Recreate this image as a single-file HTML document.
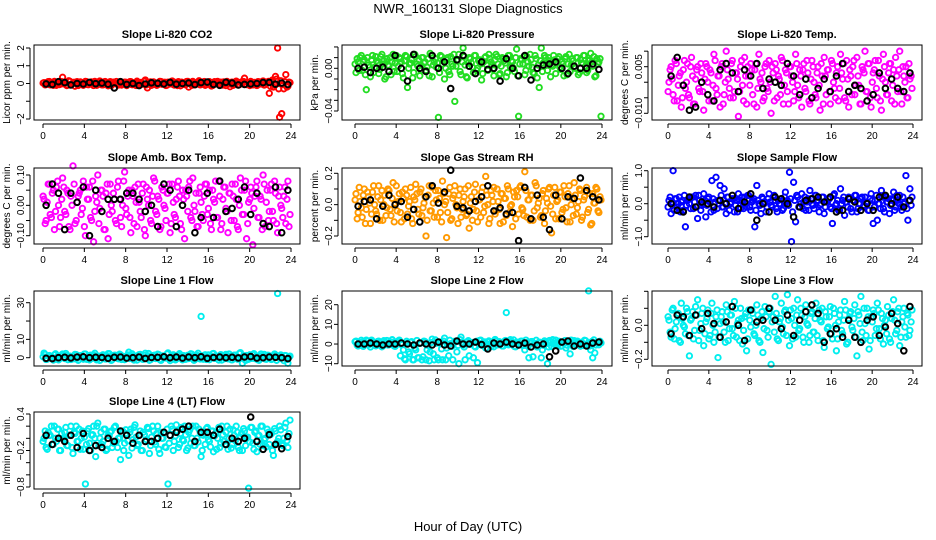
<!DOCTYPE html>
<html><head><meta charset="utf-8"><style>
html,body{margin:0;padding:0;background:#fff;}
svg{display:block;font-family:"Liberation Sans",sans-serif;}
</style></head><body>
<svg id="chart" width="936" height="540" viewBox="0 0 936 540" xmlns="http://www.w3.org/2000/svg">
<rect width="936" height="540" fill="#fff"/>
<text x="468" y="13" text-anchor="middle" font-size="13">NWR_160131  Slope Diagnostics</text>
<text x="468" y="531" text-anchor="middle" font-size="13">Hour of Day (UTC)</text>
</svg>
<script>
const xTicks = [0,4,8,12,16,20,24];
const titles = ["Slope Li-820 CO2","Slope Li-820 Pressure","Slope Li-820 Temp.","Slope Amb. Box Temp.","Slope Gas Stream RH","Slope Sample Flow","Slope Line 1 Flow","Slope Line 2 Flow","Slope Line 3 Flow","Slope Line 4 (LT) Flow"];
const yTitles = ["Licor ppm per min.","kPa per min.","degrees C per min.","degrees C per min.","percent per min.","ml/min per min.","ml/min per min.","ml/min per min.","ml/min per min.","ml/min per min."];

const co2Color = [0.05,-0.05,0.1,-0.08,0.02,0.12,-0.1,0.04,-0.03,0.35,0.08,-0.12,0.15,-0.05,0.03,-0.15,0.1,-0.02,0.06,-0.1,0.12,-0.06,0.02,0.09,-0.11,0.05,-0.03,0.14,-0.08,0.01,0.07,-0.13,0.1,-0.04,0.03,0.11,-0.09,0.05,-0.02,0.08,-0.12,0.04,0.1,-0.06,0.02,0.13,-0.08,0.06,-0.03,0.2,-0.25,0.05,-0.1,0.09,0.01,-0.07,0.12,-0.04,0.06,-0.11,0.08,-0.02,0.14,-0.09,0.03,0.1,-0.13,0.05,-0.06,0.11,-0.2,0.04,0.12,-0.08,0.02,0.15,-0.05,0.07,-0.1,0.03,0.1,-0.14,0.06,-0.03,0.12,-0.07,0.04,0.09,-0.12,0.02,-0.18,0.08,-0.04,0.13,-0.09,0.05,0.11,0.3,-0.06,0.03,0.12,-0.08,0.06,-0.11,0.09,-0.03,0.14,-0.07,0.04,-0.55,0.1,-0.2,0.4,2.0,-1.9,-1.7,-0.3,0.5,-0.15,0.05];
const co2Color2 = [0.02,-0.08,0.06,0.11,-0.03,-0.1,0.08,0.0,-0.06,0.1,-0.02,0.05,-0.09,0.12,-0.04,0.07,0.01,-0.11,0.09,-0.05,0.03,0.1,-0.07,0.04,-0.01,0.12,-0.1,0.06,0.02,-0.08,0.11,-0.03,0.05,-0.12,0.08,0.0,-0.05,0.09,-0.09,0.03,0.07,-0.02,0.1,-0.07,0.04,-0.11,0.06,0.01,-0.04,0.12,-0.08,0.03,0.09,-0.06,0.05,-0.1,0.0,0.11,-0.03,0.07,-0.09,0.02,0.1,-0.05,0.06,-0.12,0.04,0.08,-0.01,-0.07,0.12,0.03,-0.1,0.05,-0.04,0.09,-0.08,0.01,0.11,-0.06,0.07,-0.02,-0.11,0.1,0.03,-0.05,0.08,-0.09,0.0,0.12,-0.03,0.06,-0.1,0.04,0.09,-0.07,0.02,0.11,-0.04,0.05,-0.12,0.08,0.01,-0.06,0.1,-0.02,0.07,-0.09,0.03,0.12,-0.15,0.2,-0.1,0.25,-0.3,0.15,-0.05,0.1,-0.2,0.08];
const co2Black = [-0.02,-0.05,0.1,0.05,-0.08,0.0,-0.03,0.06,-0.01,0.02,-0.04,-0.25,0.1,-0.05,0.0,-0.12,-0.03,0.04,0.01,-0.02,0.06,-0.04,0.0,0.03,-0.06,0.05,0.08,-0.05,-0.1,0.07,0.02,-0.08,-0.05,-0.02,0.0,0.05,0.06,-0.04,0.02,-0.05];
const presColor = [-0.004,0.006,0.01,-0.002,0.008,-0.02,0.003,-0.008,0.012,0.001,0.007,-0.005,0.011,0.004,-0.01,0.009,0.002,-0.006,0.013,0.005,-0.003,0.01,0.006,-0.009,0.012,-0.018,0.004,0.008,-0.004,0.011,0.002,-0.007,0.01,0.005,-0.002,0.009,0.014,-0.008,0.006,0.001,-0.046,0.012,0.004,-0.01,0.008,-0.003,0.011,0.002,-0.031,0.007,0.013,-0.006,0.019,0.003,-0.009,0.01,0.005,-0.004,0.012,0.0,0.008,-0.011,0.006,0.011,-0.002,0.009,0.003,-0.007,0.013,0.004,-0.005,0.01,0.007,-0.008,0.012,0.001,0.006,-0.003,0.018,-0.045,0.009,0.004,-0.006,0.011,0.002,0.008,-0.004,0.012,-0.009,-0.018,0.019,0.005,0.01,-0.002,0.007,0.003,0.012,-0.005,0.009,0.001,0.006,-0.007,0.011,0.004,-0.003,0.009,0.002,0.01,-0.006,0.008,0.005,0.012,-0.004,0.007,0.014,0.002,-0.008,0.009,0.006,-0.045];
const presColor2 = [0.004,0.009,-0.002,0.012,0.006,-0.006,0.01,0.001,0.008,-0.004,0.011,0.005,-0.001,0.013,0.007,-0.008,0.003,0.01,0.006,-0.003,0.012,0.002,0.009,-0.005,0.007,0.011,0.0,0.005,-0.009,0.013,0.004,0.008,-0.002,0.01,0.006,0.001,-0.007,0.012,0.003,0.009,0.005,-0.004,0.011,0.007,0.0,0.01,-0.006,0.004,0.013,0.002,0.008,-0.003,0.006,0.011,-0.008,0.005,0.009,0.001,0.012,-0.002,0.007,0.004,-0.005,0.01,0.003,0.013,0.006,-0.001,0.008,0.011,-0.006,0.002,0.009,0.005,-0.004,0.012,0.007,0.0,0.01,-0.007,0.004,0.008,0.011,-0.002,0.006,0.013,0.001,-0.005,0.009,0.003,0.007,-0.003,0.012,0.005,0.01,-0.008,0.002,0.008,0.006,0.011,-0.001,0.004,0.009,-0.006,0.013,0.003,0.007,0.0,0.01,-0.004,0.005,0.012,0.002,-0.002,0.008,0.006,0.011,-0.007,0.004,0.009];
const presBlack = [0.0,0.001,-0.004,0.0,0.001,-0.003,0.012,0.0,-0.012,0.013,0.0,-0.003,0.012,0.0,0.006,-0.019,0.008,0.012,0.002,-0.005,0.006,-0.001,0.0,-0.012,0.009,0.0,-0.007,0.012,-0.011,0.0,0.003,0.004,0.006,0.0,-0.005,0.002,0.0,0.0,0.004,-0.001];
const tempColor = [0.0,0.005,-0.004,0.007,-0.006,0.002,-0.008,0.004,-0.002,0.006,-0.005,0.008,-0.007,0.001,0.005,-0.003,0.003,-0.009,0.006,0.0,0.004,-0.006,0.009,-0.002,0.002,-0.008,0.006,-0.004,0.01,0.001,-0.005,0.007,-0.003,0.003,-0.011,0.005,-0.001,0.008,-0.007,0.002,0.006,-0.004,0.004,-0.008,0.009,0.0,-0.006,0.005,-0.002,0.007,-0.01,0.003,0.006,-0.005,0.001,0.008,-0.007,0.004,-0.003,0.005,0.002,-0.006,0.009,-0.001,0.004,-0.008,0.006,-0.003,0.003,-0.007,0.007,0.0,-0.005,0.005,-0.009,0.002,0.008,-0.004,0.004,-0.007,0.006,-0.002,0.003,-0.006,0.009,0.001,-0.005,0.007,-0.008,0.002,0.005,-0.004,0.008,-0.001,-0.007,0.004,0.01,-0.003,0.006,-0.008,0.003,0.007,-0.005,0.002,-0.009,0.009,0.0,-0.004,0.006,-0.006,0.004,0.008,-0.003,0.01,-0.007,0.002,0.005,-0.005,0.001,-0.002];
const tempColor2 = [-0.003,0.004,0.001,-0.006,0.006,-0.001,0.003,-0.005,0.007,0.0,-0.004,0.005,0.002,-0.007,0.004,-0.002,0.006,-0.003,0.001,0.005,-0.006,0.003,-0.001,0.007,-0.004,0.002,0.005,-0.007,0.0,0.004,-0.002,0.006,-0.005,0.003,0.001,-0.003,0.007,-0.006,0.002,0.005,-0.001,0.004,-0.007,0.006,-0.002,0.001,0.003,-0.005,0.006,-0.003,0.0,0.005,-0.006,0.004,0.002,-0.004,0.007,-0.001,0.003,-0.007,0.005,0.0,-0.003,0.006,-0.005,0.002,0.004,-0.002,0.007,-0.006,0.001,0.005,-0.004,0.003,-0.001,0.006,-0.007,0.002,0.004,-0.003,0.007,0.0,-0.005,0.005,-0.002,0.003,0.006,-0.006,0.001,0.004,-0.004,0.007,-0.001,0.002,-0.007,0.005,0.003,-0.003,0.006,-0.005,0.0,0.004,-0.002,0.007,-0.006,0.001,0.005,-0.004,0.003,0.006,-0.001,-0.007,0.002,0.004,-0.003,0.005,0.0,-0.005,0.006,0.002];
const tempBlack = [0.002,0.008,-0.001,-0.009,-0.008,0.0,-0.004,-0.006,0.004,0.006,0.003,-0.003,0.004,0.002,0.006,-0.002,0.001,0.0,-0.001,0.006,0.002,-0.004,0.001,-0.005,-0.002,0.001,-0.003,0.002,0.006,-0.003,-0.001,-0.002,-0.006,-0.004,0.003,-0.002,0.001,-0.002,-0.003,0.003];
const boxColor = [0.02,-0.05,0.07,-0.03,0.04,-0.08,0.06,0.0,-0.04,0.09,-0.02,0.05,-0.07,0.03,0.13,-0.06,0.01,0.04,-0.03,0.08,-0.1,0.02,0.06,-0.05,-0.12,0.03,0.1,-0.01,0.05,-0.08,0.04,-0.11,0.07,-0.02,0.02,-0.06,0.08,-0.04,0.0,0.11,-0.03,0.05,-0.09,0.03,0.06,-0.07,0.01,-0.04,0.07,-0.1,0.02,0.05,-0.06,0.09,-0.02,0.03,-0.08,0.06,0.0,-0.05,0.04,-0.09,0.07,-0.03,0.02,0.08,-0.06,0.05,-0.11,0.03,0.06,-0.04,0.09,-0.02,-0.07,0.04,0.01,-0.05,0.07,-0.03,0.05,-0.08,0.02,0.08,-0.04,0.03,-0.06,0.06,-0.01,-0.09,0.04,0.07,-0.05,0.02,-0.08,0.09,-0.03,0.05,-0.11,0.01,0.06,-0.13,0.03,0.08,-0.04,0.02,0.1,-0.07,0.05,-0.02,0.07,-0.05,0.04,-0.09,0.06,-0.01,0.03,-0.06,0.08,-0.03];
const boxColor2 = [0.03,-0.06,0.01,0.07,-0.04,0.05,-0.02,0.08,-0.07,0.02,0.06,-0.03,0.04,-0.08,0.0,0.07,-0.05,0.03,0.05,-0.01,-0.07,0.06,0.02,-0.04,0.08,-0.02,0.01,-0.06,0.05,0.03,-0.08,0.07,-0.03,0.0,0.04,-0.05,0.06,0.02,-0.07,0.08,-0.01,0.03,-0.04,0.05,-0.06,0.01,0.07,-0.02,0.04,-0.08,0.06,0.0,-0.05,0.03,0.08,-0.03,0.02,-0.07,0.05,-0.01,0.04,0.07,-0.06,0.01,-0.04,0.06,0.03,-0.08,0.02,0.05,-0.02,0.08,-0.05,0.0,0.04,-0.07,0.06,-0.03,0.03,0.07,-0.01,-0.06,0.05,0.01,-0.04,0.08,-0.08,0.02,0.06,-0.02,0.04,-0.05,0.03,0.07,-0.07,0.0,0.05,-0.03,0.08,-0.06,0.02,0.04,-0.01,0.06,-0.04,0.03,-0.08,0.07,0.01,-0.05,0.05,-0.02,0.08,-0.06,0.03,0.0,-0.04,0.06,0.02,-0.07];
const boxBlack = [0.0,0.07,0.04,-0.08,0.04,0.01,0.06,-0.1,0.05,-0.02,0.02,0.02,0.02,0.04,0.04,0.02,-0.02,0.0,-0.07,0.07,0.05,-0.07,0.0,0.05,-0.09,-0.04,0.04,-0.04,0.08,-0.02,-0.01,0.02,0.06,-0.03,0.04,-0.06,-0.07,0.06,-0.09,0.05];
const rhColor = [0.07,-0.05,0.02,-0.08,0.1,-0.03,0.05,-0.12,0.08,0.0,-0.06,0.12,0.03,-0.1,0.06,-0.02,0.09,-0.07,0.14,0.01,-0.04,0.07,-0.11,0.04,0.1,-0.06,0.02,-0.09,0.05,0.13,-0.03,0.08,-0.07,0.01,-0.2,0.06,-0.04,0.11,-0.08,0.03,0.09,-0.05,0.15,0.0,-0.21,0.07,-0.1,0.04,0.12,-0.02,0.06,-0.08,0.02,0.1,-0.06,-0.15,0.05,-0.03,0.13,-0.11,0.03,0.08,-0.05,0.18,0.0,-0.09,0.06,0.11,-0.04,0.02,-0.12,0.07,0.04,-0.07,0.1,-0.01,-0.14,0.05,0.09,-0.06,0.12,-0.03,0.21,-0.08,0.03,0.06,-0.1,0.14,-0.02,0.04,-0.07,0.09,-0.04,0.01,0.11,-0.18,0.06,-0.09,0.03,0.08,-0.05,0.12,-0.02,0.07,-0.11,0.04,0.14,-0.06,0.02,0.09,-0.08,0.05,0.11,-0.03,-0.13,0.07,0.01,0.1,-0.05,0.03];
const rhColor2 = [0.03,-0.09,0.11,-0.02,0.06,-0.12,0.08,0.01,-0.06,0.12,-0.04,0.05,-0.1,0.09,0.0,-0.07,0.1,-0.03,0.04,-0.11,0.12,0.02,-0.05,0.08,-0.09,0.06,-0.01,0.11,-0.12,0.03,0.07,-0.06,0.1,-0.02,0.05,-0.1,0.12,-0.04,0.01,0.09,-0.08,0.04,-0.11,0.07,0.02,-0.05,0.11,-0.09,0.06,0.0,-0.12,0.1,-0.03,0.05,-0.07,0.12,0.01,-0.1,0.08,-0.04,0.03,-0.08,0.11,-0.01,0.06,-0.12,0.09,0.02,-0.06,0.1,-0.03,0.07,-0.11,0.04,0.12,-0.05,0.0,0.08,-0.09,0.05,0.11,-0.02,-0.07,0.09,0.03,-0.1,0.06,-0.04,0.12,0.01,-0.08,0.07,-0.12,0.04,0.1,-0.01,-0.06,0.11,0.02,-0.09,0.08,-0.03,0.05,-0.11,0.12,0.0,-0.07,0.06,-0.02,0.1,-0.1,0.03,0.09,-0.05,0.07,-0.12,0.01,0.11,-0.04,0.05];
const rhBlack = [-0.01,0.02,0.03,-0.09,-0.01,0.06,0.0,0.02,-0.08,-0.03,-0.11,0.05,0.12,0.01,0.08,0.22,-0.01,-0.02,-0.04,0.02,0.05,0.12,-0.04,-0.02,-0.06,-0.05,-0.23,0.11,-0.09,0.06,-0.08,-0.16,0.06,-0.09,0.05,0.04,0.17,0.09,0.05,0.03];
const sampColor = [0.1,-0.3,1.0,0.15,-0.1,0.2,0.05,-0.2,-0.7,0.1,0.0,0.2,-0.15,0.25,-0.45,0.1,-0.05,0.3,-0.4,0.15,0.05,0.7,-0.2,0.8,0.1,0.55,-0.1,0.45,-0.3,0.2,0.0,0.15,-0.25,0.1,0.3,-0.15,0.05,0.2,-0.1,0.25,-0.2,0.1,-0.7,0.55,0.0,-0.3,0.15,0.05,-0.1,0.3,-0.05,0.2,0.1,-0.25,0.0,0.15,-0.15,0.35,0.1,0.95,-1.15,0.65,-0.55,0.2,-0.1,0.3,0.05,-0.2,0.15,0.4,0.0,-0.15,0.25,0.1,-0.05,0.2,-0.3,0.05,0.15,-0.1,-0.6,0.3,0.0,-0.2,0.45,0.1,-0.35,0.05,0.2,-0.15,0.1,0.25,-0.25,0.0,0.15,-0.1,0.2,0.05,-0.2,0.3,-0.6,0.1,-0.5,0.0,0.4,-0.15,0.2,0.05,-0.3,0.15,0.35,-0.1,0.1,0.25,-0.2,0.0,0.85,-0.5,0.45,0.2];
const sampColor2 = [-0.1,0.2,0.05,-0.2,0.15,0.0,-0.25,0.1,0.25,-0.05,0.15,-0.15,0.2,0.05,-0.1,0.25,-0.2,0.0,0.1,-0.05,0.2,-0.25,0.15,0.05,-0.15,0.1,0.25,-0.1,0.0,0.2,-0.2,0.05,0.15,-0.05,-0.25,0.1,0.2,-0.15,0.0,0.25,-0.1,0.05,0.15,-0.2,0.1,-0.05,0.2,0.0,-0.25,0.15,0.05,-0.1,0.25,-0.15,0.1,0.0,-0.2,0.2,0.05,-0.05,0.15,-0.25,0.1,0.25,-0.1,0.0,-0.15,0.2,0.05,-0.2,0.15,-0.05,0.25,0.1,-0.25,0.0,0.2,-0.1,0.05,0.15,-0.15,0.25,-0.05,0.1,-0.2,0.0,0.2,0.05,-0.1,0.15,-0.25,0.1,0.25,-0.15,0.0,0.2,-0.05,0.05,-0.2,0.15,0.1,-0.1,0.25,0.0,-0.15,0.2,-0.25,0.05,0.15,-0.05,0.1,-0.2,0.25,0.0,-0.1,0.2,0.05,-0.15,0.1,-0.05];
const sampBlack = [0.0,-0.2,-0.25,0.2,-0.1,0.05,0.0,-0.1,0.1,0.0,0.25,-0.15,0.05,0.3,-0.5,0.0,-0.25,0.2,0.15,0.0,-0.4,-0.1,0.1,0.15,0.2,0.05,0.2,-0.25,-0.2,0.15,0.05,-0.2,0.0,-0.2,0.2,0.25,0.0,0.2,-0.1,0.1];
const line1Color = [2.5,-1,1,0.5,-0.5,1.5,0,-1.2,0.8,2,-0.5,1.2,0.3,-1,0.7,1.8,-0.3,0.5,1,-0.8,2,0.2,-1.2,0.9,1.4,-0.4,0.6,-1.5,1.1,0.3,-0.7,2.2,0.4,-1,1.3,0,-0.6,1.6,0.2,-1.1,0.8,3,-0.4,1,0.5,-1.3,1.7,0.1,-0.9,2.4,0.6,-1.4,1.2,0.3,-0.5,1.9,-1,0.7,0.4,-0.2,2.6,-1.6,0.9,0.2,-0.7,1.5,0.6,-1.2,1,0.1,-0.5,2.1,0.8,-1,1.3,0.4,22.5,-0.8,1.6,0.3,-1.1,0.9,2.3,-0.4,0.6,1.1,-1.3,0.2,1.8,-0.6,0.7,-1.2,1.4,0.3,-0.2,2.8,-3,0.5,1.2,-0.9,0.4,1.7,-0.5,0.9,-1.4,2,0.1,-0.7,1.3,0.6,-1,0.8,1.5,35,-0.3,0.7,-1.6,1.1,-3,0.9];
const line1Color2 = [0.5,1.8,-0.8,1.2,0.2,-1.3,2.1,0.7,-0.4,1.5,0.0,2.3,-1.1,0.9,0.4,-0.6,1.7,-1.4,1.1,0.3,2.0,-0.9,0.6,1.4,-0.2,2.4,-1.2,0.8,0.1,1.6,-0.7,1.0,2.2,-1.5,0.5,1.3,-0.3,1.9,-1.0,0.7,0.2,1.5,-0.5,2.1,-1.3,0.9,0.4,1.8,-0.8,1.2,0.0,2.3,-1.1,0.6,1.4,-0.4,1.7,-1.5,1.0,0.3,2.0,-0.6,0.8,1.6,-1.2,0.5,2.2,-0.2,1.1,-0.9,1.3,0.1,1.9,-1.4,0.7,2.4,-0.7,1.0,0.4,-1.0,1.5,0.2,2.1,-0.3,0.9,-1.3,1.7,0.6,-0.5,1.2,2.0,-1.1,0.3,1.4,-0.8,2.3,0.0,1.1,-1.5,0.8,1.6,-0.4,2.2,0.5,-1.2,1.0,0.2,1.8,-0.9,1.3,0.7,-0.6,2.0,-1.4,0.9,1.5,-0.1,1.2,-1.0,0.4];
const line1Black = [-0.3,-0.5,0,0.2,-0.1,0.3,0.5,0,0.2,0.1,-0.3,0.2,0.4,-0.2,0,0.3,-0.4,0.1,0.2,0.5,0,0.3,-0.2,0.4,0,0.5,-0.3,0.1,0.3,0,0.2,-0.1,0.4,0.6,-0.2,0,0.3,0.2,0,-0.5];
const line2Color = [1.5,-1,0.5,1,-0.5,2,0,-1.5,1.2,0.3,-0.8,1.5,0.2,-1,0.9,1.8,-0.4,0.6,1,-1.2,0.8,2,-0.3,-3,-8,0.5,-5,1.2,-8,-3,-7,0.3,-8,1.5,-8,-0.7,-4,2.5,-8,0.4,-8,1,-8,3,-2,-6,0.2,-8,1.4,-4,-10,3.5,-0.5,-8,1,-6,0.5,-7,-1.5,-9.5,1.8,-0.6,0.3,-2,1.1,-0.3,0.7,-1.4,1.6,0,0.5,-1,1.3,16,-0.4,2.2,0.6,-1.3,0.9,-0.2,1.4,-0.8,-3,0.7,-7,1.2,-6.5,0.2,-1.5,1,-7,-0.6,0.9,-10,1.8,-1.3,0.4,2,-0.5,1.1,-0.9,0.6,-2,1.3,-5,0.2,1.7,-0.3,0.8,-1.1,0.5,1.9,-0.7,27,-3,-7,-4.5,1,-0.4,0.6];
const line2Color2 = [1.2,-0.6,0.8,1.9,-1.2,0.4,1.5,-0.3,2.0,0.1,-0.9,1.3,0.6,-1.4,1.7,0.2,-0.5,1.1,2.2,-1.0,0.7,1.6,-6,0.3,-7.5,1.4,-4,0.9,-8,-2,1.8,-7,0.5,-6.5,1.2,-3,-8.5,0.8,-5,2.1,-7,0.4,-2.5,1.5,-8,-0.4,1.9,-1.2,0.6,1.3,-0.7,2.2,0.3,-1.5,1.0,1.7,-0.2,0.8,-1.1,1.4,0.5,2.0,-0.8,1.1,0.0,1.6,-1.3,0.7,2.3,-0.5,1.2,0.2,-1.0,1.8,0.6,-0.3,1.4,2.1,-1.4,0.9,0.3,1.5,-0.7,2.0,-1.2,0.5,1.3,-0.1,1.9,-0.9,0.8,-3,1.6,0.2,-1.5,1.1,2.2,-0.4,0.7,1.4,-1.1,0.4,1.8,-0.6,1.0,2.0,-1.3,0.6,1.5,-0.2,0.9,-0.8,1.7,0.3,-1.0,1.2,2.1,-0.5,0.8,1.4];
const line2Black = [0,0,0.5,0,-0.5,0,0,0.5,0,-0.5,0.5,0,-0.5,1,-0.5,-1,1.5,0,0,1,-0.3,-2.5,0.5,0,1,0,-0.5,0.5,-1.5,-0.5,0,-6.5,-3.5,1,1.5,-1,0,-1,0.5,1];
const line3Color = [0.03,-0.07,0.1,-0.02,0.06,-0.09,0.13,0.0,-0.05,0.08,-0.18,0.04,-0.08,0.11,0.15,-0.03,0.07,-0.12,0.02,0.09,-0.06,0.13,-0.1,0.05,-0.19,0.01,0.08,-0.04,0.12,-0.09,0.06,-0.02,0.14,-0.07,0.03,0.1,-0.11,0.05,-0.15,0.09,-0.01,0.07,-0.06,0.12,-0.09,0.04,-0.16,0.11,-0.03,0.08,-0.23,0.05,0.17,-0.08,0.02,0.13,-0.05,0.09,0.18,-0.12,0.04,0.1,-0.07,0.15,-0.02,0.06,-0.1,0.12,0.0,-0.06,0.08,-0.04,0.13,-0.09,0.03,0.1,-0.13,0.05,-0.01,0.11,-0.08,0.07,-0.15,0.02,0.09,-0.05,0.14,-0.11,0.04,0.08,-0.03,0.12,-0.18,0.06,0.17,-0.09,0.01,0.1,-0.14,0.05,0.09,-0.06,0.13,-0.02,0.07,-0.11,0.03,0.11,-0.08,0.04,0.15,-0.05,0.08,-0.12,0.02,0.1,-0.07,0.06,-0.03,0.09];
const line3Color2 = [0.05,-0.04,0.09,-0.08,0.02,0.07,-0.1,0.04,-0.01,0.1,-0.06,0.03,0.08,-0.03,0.06,-0.09,0.01,0.1,-0.05,0.04,-0.08,0.07,0.0,-0.04,0.09,-0.07,0.05,0.02,-0.1,0.08,-0.02,0.06,-0.06,0.1,0.01,-0.09,0.04,-0.03,0.07,-0.08,0.03,0.09,-0.05,0.0,0.06,-0.1,0.08,-0.02,0.05,-0.07,0.1,0.02,-0.04,0.07,-0.09,0.04,-0.01,0.08,-0.06,0.03,0.09,-0.08,0.0,0.06,-0.03,0.1,-0.07,0.05,0.01,-0.1,0.07,-0.04,0.04,-0.06,0.09,0.02,-0.09,0.08,-0.02,0.05,-0.05,0.1,0.0,-0.08,0.06,-0.03,0.03,0.09,-0.1,0.07,-0.01,0.04,-0.07,0.08,0.01,-0.04,0.1,-0.06,0.05,-0.09,0.02,0.07,-0.02,0.09,-0.08,0.04,0.0,-0.05,0.06,-0.1,0.08,0.03,-0.03,0.1,-0.07,0.05,-0.01,0.07,-0.06,0.02];
const line3Black = [-0.05,0.06,0.05,-0.06,0.06,-0.02,0.07,0.01,-0.07,0.02,0.11,0.0,-0.09,0.09,0.02,0.03,0.1,0.03,-0.02,0.06,-0.06,0.03,0.08,0.12,0.07,-0.1,-0.05,-0.02,-0.07,0.03,-0.07,-0.1,0.03,0.05,-0.06,-0.01,0.07,0.01,-0.15,0.11];
const line4Color = [0.0,-0.15,0.1,0.05,-0.1,0.2,-0.05,0.15,-0.2,0.0,0.1,-0.12,0.05,0.2,-0.25,0.08,-0.05,0.15,0.0,-0.18,-0.75,0.12,-0.08,0.05,0.2,-0.3,0.25,0.0,-0.1,0.15,-0.2,0.05,0.1,-0.15,0.18,-0.05,0.0,-0.35,0.12,-0.08,0.08,-0.28,0.15,-0.02,0.22,-0.12,0.05,-0.2,0.1,-0.05,0.18,-0.25,0.02,0.12,-0.1,0.2,-0.25,0.0,0.1,-0.15,-0.75,0.05,0.15,-0.05,0.22,-0.15,0.08,-0.02,0.2,-0.2,0.1,-0.08,0.2,-0.12,0.0,0.15,-0.3,0.05,-0.1,0.18,-0.05,0.12,-0.22,0.08,0.0,-0.15,0.2,-0.05,0.1,-0.18,0.15,-0.1,0.05,0.2,-0.15,0.02,-0.2,0.12,0.0,-0.82,0.18,-0.08,0.1,-0.22,0.05,0.2,-0.12,0.0,0.15,-0.1,0.08,-0.28,0.12,-0.05,0.2,-0.1,0.0,0.25,-0.15,0.3];
const line4Color2 = [-0.05,0.12,-0.18,0.05,0.2,-0.1,0.0,0.15,-0.2,0.08,-0.02,0.18,-0.12,0.05,-0.15,0.1,0.2,-0.05,-0.18,0.12,0.02,-0.1,0.16,-0.2,0.06,0.0,0.2,-0.12,0.1,-0.05,0.15,-0.18,0.04,0.12,-0.08,0.2,-0.15,0.0,0.08,-0.2,0.14,-0.04,0.1,-0.16,0.18,0.02,-0.1,0.12,-0.2,0.06,-0.02,0.16,-0.12,0.2,-0.06,0.08,-0.18,0.1,0.0,-0.14,0.15,-0.08,0.2,-0.2,0.04,0.12,-0.1,0.18,-0.04,0.06,-0.16,0.14,0.0,-0.12,0.2,-0.06,0.1,-0.2,0.08,0.16,-0.02,-0.14,0.12,0.04,-0.18,0.18,-0.08,0.06,-0.1,0.2,0.0,-0.16,0.14,-0.04,0.1,-0.2,0.08,0.16,-0.12,0.02,-0.06,0.18,-0.18,0.12,0.04,-0.1,0.2,-0.02,-0.14,0.1,0.06,-0.2,0.16,-0.08,0.0,0.14,-0.12,0.18,-0.04,0.08];
const line4Black = [0.05,-0.1,0.0,-0.05,0.05,-0.15,0.08,-0.2,-0.12,-0.15,0.0,-0.05,0.12,0.05,-0.08,0.05,-0.05,-0.05,0.0,0.1,0.05,0.1,0.15,0.2,-0.05,0.1,0.1,0.05,0.15,-0.1,0.0,-0.05,0.0,0.35,-0.05,-0.18,0.06,-0.1,-0.17,0.03];

const colorSeries = [co2Color,presColor,tempColor,boxColor,rhColor,sampColor,line1Color,line2Color,line3Color,line4Color];
const colorSeries2 = [co2Color2,presColor2,tempColor2,boxColor2,rhColor2,sampColor2,line1Color2,line2Color2,line3Color2,line4Color2];
const blackSeries = [co2Black,presBlack,tempBlack,boxBlack,rhBlack,sampBlack,line1Black,line2Black,line3Black,line4Black];
const yTickValues = [[2,1,0,-1,-2],[0.02,0.01,0,-0.01,-0.02,-0.03,-0.04],[0.01,0.005,0,-0.005,-0.01],[0.1,0.05,0,-0.05,-0.1],[0.2,0.1,0,-0.1,-0.2],[1,0.5,0,-0.5,-1],[0,10,20,30],[-10,0,10,20],[0.2,0.1,0,-0.1,-0.2],[0.4,0.2,0,-0.2,-0.4,-0.6,-0.8]];
const yTickLabels = [["2","1","0","","−2"],["","","0.00","","","","−0.04"],["","0.005","","","−0.010"],["0.10","","0.00","","−0.10"],["0.2","","0.0","","−0.2"],["1.0","","0.0","","−1.0"],["0","10","","30"],["−10","0","10","20"],["","","0.0","","−0.2"],["0.4","","","−0.2","","","−0.8"]];
const seriesColors = ["#ff0000","#22dd22","#ff00ff","#ff00ff","#ff9900","#0000ff","#00eeee","#00eeee","#00eeee","#00eeee"];

// layout (not data)
const cols = [{bx:34,bw:266,x0:43,x1:291},{bx:342,bw:270,x0:355,x1:602},{bx:652,bw:270,x0:668,x1:913}];
const rows = [{top:45,bot:120},{top:168,bot:244},{top:291,bot:366},{top:412,bot:489}];
const yRef = [[2,48,-2,119],[0,68.3,-0.04,111],[0.005,66.7,-0.01,113.3],[0.1,175,-0.1,235.7],[0.2,173.3,-0.2,236],[1,170.7,-1,236.7],[30,302.7,0,357.7],[20,304.7,-10,363.7],[0,325.3,-0.2,359.3],[0.4,414,-0.8,487]];

const NS="http://www.w3.org/2000/svg";
const svg=document.getElementById('chart');
function mk(tag,attrs,parent){const e=document.createElementNS(NS,tag);for(const k in attrs)e.setAttribute(k,attrs[k]);(parent||svg).appendChild(e);return e;}

for(let p=0;p<10;p++){
  const c=cols[p%3], r=rows[Math.floor(p/3)];
  const g=mk('g',{});
  
  
  const xs=h=>c.x0+(h/24)*(c.x1-c.x0);
  const ref=yRef[p];
  const ys=v=>ref[1]+(v-ref[0])*(ref[3]-ref[1])/(ref[2]-ref[0]);
  const t=mk('text',{x:c.bx+c.bw/2,y:r.top-7,'text-anchor':'middle','font-size':11,'font-weight':'bold'},g);
  t.textContent=titles[p];
  
  
  const yt=mk('text',{transform:`translate(${c.bx-24},${(r.top+r.bot)/2}) rotate(-90)`,'text-anchor':'middle','font-size':10},g);
  yt.textContent=yTitles[p];
  
  
  // points
  const pg=mk('g',{fill:'none',stroke:seriesColors[p],'stroke-width':1.9},g);
  
  
  const cs=colorSeries[p], n=cs.length;
  cs.forEach((v,i)=>{const pt=mk('circle',{cx:xs((i+0.5)*24/n).toFixed(1),cy:ys(v).toFixed(1),r:2.7},pg);
    
    });
  const cs2=colorSeries2[p], n2=cs2.length;
  cs2.forEach((v,i)=>{const pt=mk('circle',{cx:xs((i+0.05)*24/n2).toFixed(1),cy:ys(v).toFixed(1),r:2.7},pg);
    
    });
  const bs=blackSeries[p], m=bs.length;
  const bg=mk('g',{fill:'none',stroke:'#000','stroke-width':2},g);
  
  
  bs.forEach((v,i)=>{const pt=mk('circle',{cx:xs((i+0.5)*24/m).toFixed(1),cy:ys(v).toFixed(1),r:2.8},bg);
    
    });
  // box
  const box=mk('rect',{x:c.bx,y:r.top,width:c.bw,height:r.bot-r.top,fill:'none',stroke:'#000','stroke-width':1},g);
  
  
  // x axis
  const xa=mk('g',{},g);
  
  
  mk('line',{x1:xs(0),x2:xs(24),y1:r.bot+4,y2:r.bot+4,stroke:'#000'},xa);
  xTicks.forEach(h=>{mk('line',{x1:xs(h),x2:xs(h),y1:r.bot+4,y2:r.bot+8,stroke:'#000'},xa);
    const l=mk('text',{x:xs(h),y:r.bot+19,'text-anchor':'middle','font-size':10},xa);l.textContent=h;
    
    });
  // y axis
  const ya=mk('g',{},g);
  
  
  const tv=yTickValues[p];
  mk('line',{x1:c.bx-4,x2:c.bx-4,y1:ys(Math.max(...tv)),y2:ys(Math.min(...tv)),stroke:'#000'},ya);
  tv.forEach((v,i)=>{const y=ys(v);mk('line',{x1:c.bx-8,x2:c.bx-4,y1:y,y2:y,stroke:'#000'},ya);
    if(yTickLabels[p][i]){const l=mk('text',{transform:`translate(${c.bx-10},${y}) rotate(-90)`,'text-anchor':'middle','font-size':10},ya);l.textContent=yTickLabels[p][i];
    
    }});
}
</script>
</body></html>
